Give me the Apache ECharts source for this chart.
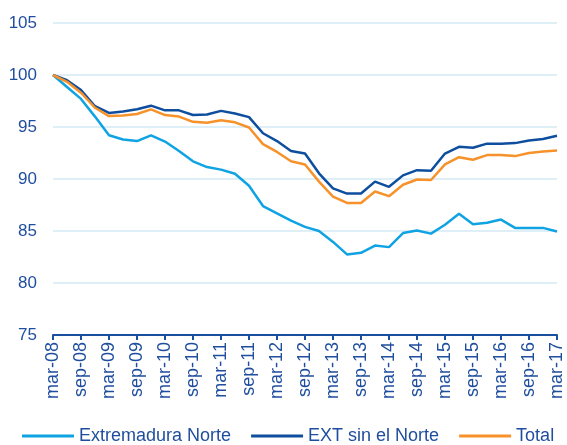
<!DOCTYPE html>
<html>
<head>
<meta charset="utf-8">
<script src="https://cdn.jsdelivr.net/npm/echarts@6/dist/echarts.min.js"></script>
<style>
  html, body { margin: 0; padding: 0; background: #fff; }
  #chart { width: 567px; height: 445px; }
</style>
</head>
<body>
<div id="chart"></div>
<script>
// trimestres mar-08 .. mar-17
let categories = ['mar-08','jun-08','sep-08','dic-08','mar-09','jun-09','sep-09','dic-09',
  'mar-10','jun-10','sep-10','dic-10','mar-11','jun-11','sep-11','dic-11',
  'mar-12','jun-12','sep-12','dic-12','mar-13','jun-13','sep-13','dic-13',
  'mar-14','jun-14','sep-14','dic-14','mar-15','jun-15','sep-15','dic-15',
  'mar-16','jun-16','sep-16','dic-16','mar-17'];

let extNorte = [100, 98.85, 97.7, 96.0, 94.2, 93.8, 93.65, 94.2, 93.6, 92.7, 91.7, 91.15,
  90.9, 90.5, 89.35, 87.4, 86.7, 86.0, 85.4, 85.0, 83.95, 82.75, 82.9, 83.6, 83.45,
  84.8, 85.05, 84.75, 85.6, 86.65, 85.65, 85.8, 86.1, 85.3, 85.3, 85.3, 84.95];

let extSinNorte = [100, 99.5, 98.55, 97.0, 96.35, 96.5, 96.7, 97.05, 96.6, 96.6, 96.15, 96.2,
  96.55, 96.3, 95.95, 94.4, 93.65, 92.7, 92.45, 90.55, 89.1, 88.6, 88.6, 89.75, 89.25,
  90.35, 90.85, 90.8, 92.45, 93.1, 93.0, 93.4, 93.4, 93.45, 93.7, 93.85, 94.15];

let total = [100, 99.35, 98.3, 96.85, 96.05, 96.1, 96.25, 96.7, 96.15, 96.0, 95.5, 95.4,
  95.65, 95.45, 94.95, 93.35, 92.6, 91.7, 91.4, 89.75, 88.3, 87.7, 87.7, 88.8, 88.35,
  89.45, 89.95, 89.9, 91.4, 92.1, 91.85, 92.3, 92.3, 92.2, 92.5, 92.65, 92.75];

let yTicks = [75, 80, 85, 90, 95, 100, 105];

let chart = echarts.init(document.getElementById('chart'));
let textColor = '#1F4E9E';
let font = 'Liberation Sans, Arial, sans-serif';

function line(name, data, color) {
    return {
        name: name,
        type: 'line',
        data: data,
        symbol: 'none',
        lineStyle: { color: color, width: 2.5 },
        itemStyle: { color: color }
    }
}

let option = {
    animation: false,
    grid: { left: 53, right: 10, top: 23, bottom: 110 },
    legend: {
        top: 427,
        left: 22,
        padding: 0,
        itemWidth: 52,
        itemHeight: 3,
        itemGap: 20,
        icon: 'rect',
        textStyle: { color: textColor, fontSize: 18, fontFamily: font, padding: [0, 0, 0, 0] },
        data: ['Extremadura Norte', 'EXT sin el Norte', 'Total']
    },
    xAxis: {
        type: 'category',
        data: categories,
        boundaryGap: false,
        axisLine: { lineStyle: { color: '#1A4FA0', width: 2 } },
        axisTick: { interval: 1, length: 5, lineStyle: { color: '#1A4FA0', width: 2 } },
        axisLabel: {
            interval: 1,
            rotate: 90,
            color: textColor,
            fontSize: 18,
            fontFamily: font,
            margin: 7
        }
    },
    yAxis: {
        type: 'value',
        min: yTicks[0],
        max: yTicks[yTicks.length - 1],
        interval: 5,
        axisLine: { show: false },
        axisTick: { show: false },
        splitLine: { lineStyle: { color: '#D4EAF6', width: 1.5 } },
        axisLabel: { color: textColor, fontSize: 17, fontFamily: font, margin: 16 }
    },
    series: [
        line('Extremadura Norte', extNorte, '#10A3E3'),
        line('EXT sin el Norte', extSinNorte, '#0E4E9E'),
        line('Total', total, '#F7922A')
    ]
}
chart.setOption(option)
</script>
</body>
</html>
